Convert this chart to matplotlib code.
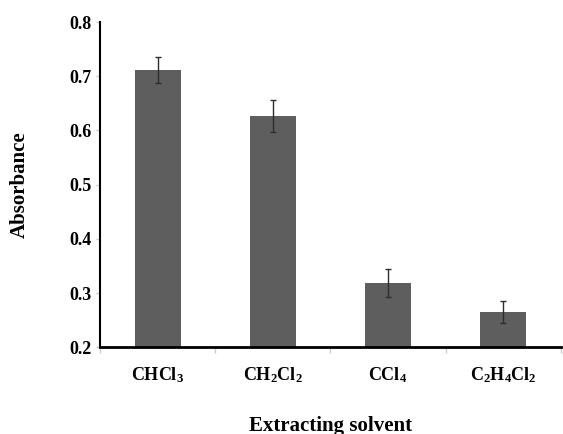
import matplotlib.pyplot as plt
import numpy as np

# data
solvents = [r'$\mathbf{CHCl_3}$', r'$\mathbf{CH_2Cl_2}$', r'$\mathbf{CCl_4}$', r'$\mathbf{C_2H_4Cl_2}$']
absorbance = [0.711, 0.627, 0.318, 0.265]
errors = [0.024, 0.030, 0.026, 0.020]
yticks = [0.2, 0.3, 0.4, 0.5, 0.6, 0.7, 0.8]

plt.rcParams['font.family'] = 'Liberation Serif'
plt.rcParams['font.weight'] = 'bold'
plt.rcParams['mathtext.fontset'] = 'custom'
plt.rcParams['mathtext.rm'] = 'Liberation Serif:bold'
plt.rcParams['mathtext.bf'] = 'Liberation Serif:bold'

fig = plt.figure(figsize=(5.63, 4.34), dpi=100)
ax = fig.add_axes([0.178, 0.2, 0.818, 0.749])

x = np.arange(len(solvents))
ax.bar(x, absorbance, width=0.4, color='#5e5e5e', zorder=2)
ax.errorbar(x, absorbance, yerr=errors, fmt='none', ecolor='#2e2e2e',
            elinewidth=1.0, capsize=2.5, capthick=1.0, zorder=3)

ax.set_xlim(-0.5, 3.5)
ax.set_ylim(0.2, 0.8)
ax.set_yticks(yticks)
ax.set_yticklabels([f'{v:.1f}' for v in yticks], fontsize=13, fontweight='bold')
ax.set_xticks(x)
ax.set_xticklabels(solvents, fontsize=13)
ax.set_xticks(np.arange(-0.5, 3.6, 1.0), minor=True)

ax.tick_params(axis='x', which='major', length=0, pad=13)
ax.tick_params(axis='x', which='minor', length=4, color='#cccccc', width=1)
ax.tick_params(axis='y', length=3, color='#cccccc', width=1, pad=3)

ax.spines['top'].set_visible(False)
ax.spines['right'].set_visible(False)
ax.spines['left'].set_linewidth(1.5)
ax.spines['bottom'].set_linewidth(2.0)

ax.set_ylabel('Absorbance', fontsize=15, fontweight='bold', labelpad=29)
ax.set_xlabel('Extracting solvent', fontsize=15, fontweight='bold', labelpad=22)

plt.savefig('out.png', dpi=100)
plt.close()
